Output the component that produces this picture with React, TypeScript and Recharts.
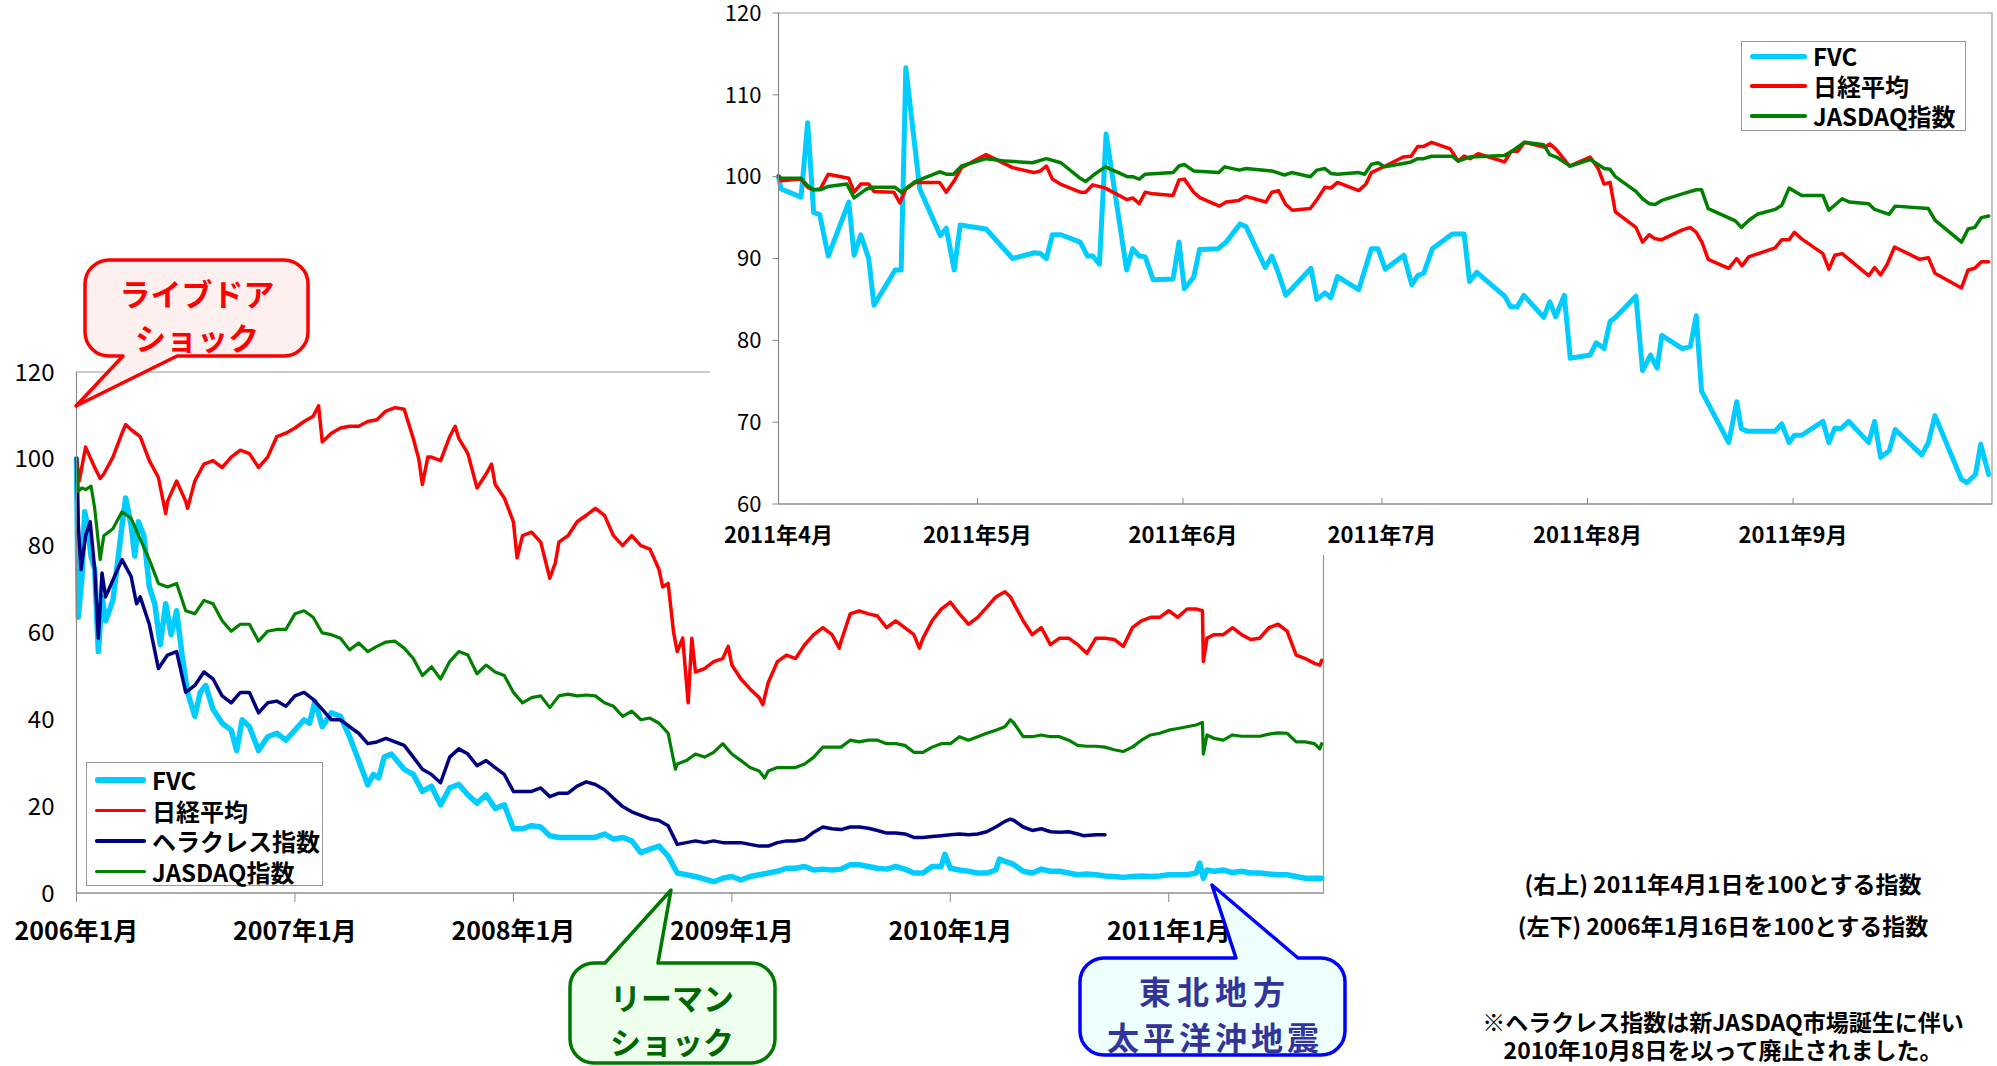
import { Line, LineChart, ReferenceArea, XAxis, YAxis } from "recharts";

const FONT = '"Noto Sans CJK JP", "Noto Sans", sans-serif';

const C_FVC = "#00CCFF";
const C_NIKKEI = "#FF0000";
const C_HERC = "#000080";
const C_JASDAQ = "#008000";

// ---- lower chart: x = months since 2006年1月, value = index (2006/1/16 = 100)
const longTicks = [0, 12, 24, 36, 48, 60];
const longTickLabels = ["2006年1月", "2007年1月", "2008年1月", "2009年1月", "2010年1月", "2011年1月"];
const longYTicks = [0, 20, 40, 60, 80, 100, 120];

const fvcLong: [number, number][] = [
  [0, 100], [0.1, 63.5], [0.3, 72.9], [0.45, 87.8], [0.6, 84.7], [0.8, 77.6], [1, 74.5], [1.2, 55.6],
  [1.4, 68.2], [1.6, 62.7], [2, 67.4], [2.3, 77.6], [2.5, 84.7], [2.7, 91], [3, 84.7], [3.2, 77.6],
  [3.4, 85.5], [3.7, 82.3], [4, 70.5], [4.3, 66.6], [4.6, 57.2], [4.9, 66.6], [5.2, 59.5], [5.5, 65],
  [5.8, 54.8], [6.1, 46.2], [6.5, 40.7], [6.8, 46.2], [7.1, 47.8], [7.5, 42.3], [8, 39.1], [8.5, 37.5],
  [8.8, 32.8], [9.1, 39.9], [9.5, 38.3], [10, 32.8], [10.5, 36], [11, 36.8], [11.5, 35.2], [12, 37.5],
  [12.5, 39.9], [12.8, 39.1], [13.1, 44.2], [13.5, 38.3], [14, 41.5], [14.5, 40.7], [15, 36], [15.5, 30.5],
  [16, 24.9], [16.3, 27.3], [16.6, 26.5], [16.9, 31.3], [17.3, 32], [17.6, 30.5], [18, 28.5], [18.5, 27.3],
  [19, 23.4], [19.5, 24.6], [20, 20.3], [20.5, 24.2], [21, 25], [21.5, 22.6], [22, 20.7], [22.5, 22.6],
  [23, 19.5], [23.5, 20.3], [24, 14.8], [24.5, 14.8], [25, 15.5], [25.5, 15.2], [26, 13.2], [26.5, 12.8],
  [27, 12.8], [27.5, 12.8], [28, 12.8], [28.5, 12.8], [29, 13.6], [29.5, 12.4], [30, 12.8], [30.5, 12],
  [31, 9.3], [31.5, 10.1], [32, 10.8], [32.5, 8.5], [33, 4.6], [33.5, 4.2], [34, 3.8], [34.5, 3.2],
  [35, 2.6], [35.5, 3.4], [36, 3.8], [36.5, 3], [37, 3.8], [37.5, 4.2], [38, 4.6], [38.5, 5],
  [39, 5.7], [39.5, 5.7], [40, 6.1], [40.5, 5.3], [41, 5.5], [41.5, 5.3], [42, 5.5], [42.5, 6.5],
  [43, 6.5], [43.5, 6.1], [44, 5.7], [44.5, 5.5], [45, 6.1], [45.5, 5.5], [46, 4.6], [46.5, 4.6],
  [47, 6.1], [47.5, 6.1], [47.7, 8.9], [48, 5.7], [48.5, 5.3], [49, 5], [49.5, 4.6], [50, 4.6],
  [50.5, 5.3], [50.7, 7.8], [51, 7.3], [51.3, 6.9], [51.5, 6.5], [52, 5], [52.5, 4.6], [53, 5.5],
  [53.5, 5], [54, 5], [54.5, 4.6], [55, 4.2], [55.5, 4.4], [56, 4.2], [56.5, 3.9], [57, 3.8],
  [57.5, 3.6], [58, 3.8], [58.5, 3.9], [59, 3.8], [59.5, 3.9], [60, 4.2], [60.5, 4.2], [61, 4.2],
  [61.5, 4.6], [61.7, 6.9], [61.9, 3.4], [62.1, 5.3], [62.5, 5], [63, 5.3], [63.5, 4.7], [64, 5],
  [64.5, 4.6], [65, 4.6], [65.5, 4.4], [66, 4.2], [66.5, 4.2], [67, 3.8], [67.5, 3.4], [68, 3.4], [68.4, 3.4],
];

const nikkeiLong: [number, number][] = [
  [0, 100], [0.15, 94.9], [0.5, 102.7], [1, 98], [1.3, 95.5], [1.5, 96.5], [2, 100.4], [2.5, 105.9],
  [2.7, 107.9], [3, 106.7], [3.5, 105.1], [4, 99.6], [4.5, 95.7], [4.9, 87.4], [5, 90.2], [5.5, 94.9],
  [6, 90.2], [6.1, 88.6], [6.5, 94.9], [7, 98.8], [7.5, 99.6], [8, 98], [8.5, 100.4], [9, 102],
  [9.5, 101.2], [10, 98], [10.5, 100.4], [11, 105.1], [11.5, 105.9], [12, 107.1], [12.5, 108.6], [13, 109.8],
  [13.3, 112.2], [13.5, 103.9], [14, 105.9], [14.5, 107.1], [15, 107.5], [15.5, 107.5], [16, 108.6], [16.5, 109],
  [17, 111], [17.5, 111.8], [18, 111.4], [18.5, 104.7], [18.8, 100], [19, 94.1], [19.3, 100.4], [19.5, 100.4],
  [20, 99.6], [20.5, 105.1], [20.8, 107.5], [21, 104.7], [21.5, 101.2], [22, 93.3], [22.5, 96.5], [22.8, 98.8],
  [23, 94.1], [23.5, 91], [24, 85.5], [24.2, 77.2], [24.5, 82.3], [25, 83.1], [25.5, 80.8], [26, 72.5],
  [26.3, 76], [26.5, 80.8], [27, 82.3], [27.5, 85.5], [28, 87], [28.5, 88.6], [29, 87], [29.5, 82.3],
  [30, 80], [30.5, 82.3], [31, 80], [31.5, 79.2], [32, 74.5], [32.2, 70.5], [32.5, 71.3], [32.8, 60],
  [33, 55.6], [33.3, 58.7], [33.6, 43.8], [33.8, 58.7], [34, 50.9], [34.5, 51.7], [35, 53.3], [35.5, 54],
  [35.8, 56.8], [36, 52.5], [36.5, 49.3], [37, 47], [37.5, 45], [37.7, 43.4], [38, 48.5], [38.5, 53.3],
  [39, 54.8], [39.5, 54], [40, 57.2], [40.5, 59.5], [41, 61.1], [41.5, 59.5], [41.9, 56.4], [42, 58],
  [42.5, 64.3], [43, 65], [43.5, 64.3], [44, 63.8], [44.5, 61.1], [45, 62.7], [45.5, 61.1], [46, 59.5],
  [46.3, 56.4], [46.5, 58.7], [47, 62.7], [47.5, 65.4], [48, 67], [48.5, 64.3], [49, 61.9], [49.5, 63.5],
  [50, 65.8], [50.5, 68.2], [51, 69.4], [51.3, 68.2], [51.5, 66.6], [52, 62.7], [52.5, 59.5], [53, 61.1],
  [53.5, 57.2], [54, 58.7], [54.5, 58.7], [55, 57.2], [55.5, 55.2], [56, 58.7], [56.5, 58.7], [57, 58.4],
  [57.5, 56.8], [58, 61.1], [58.5, 62.7], [59, 63.5], [59.5, 63.5], [60, 65], [60.5, 63.5], [61, 65.4],
  [61.5, 65.4], [61.85, 65], [61.9, 53.3], [62.1, 58.7], [62.5, 59.5], [63, 59.5], [63.5, 61.1], [64, 59.5],
  [64.5, 58.4], [65, 58.7], [65.5, 61.1], [66, 61.9], [66.5, 60.3], [67, 54.8], [67.5, 54], [68, 52.9],
  [68.3, 52.5], [68.4, 53.6],
];

const herculesLong: [number, number][] = [
  [0, 100], [0.1, 84.7], [0.25, 74.5], [0.5, 82.3], [0.75, 85.5], [1, 74.5], [1.2, 58.7], [1.4, 73.7],
  [1.6, 68.2], [2, 72.1], [2.5, 76.8], [3, 72.9], [3.3, 66.6], [3.5, 68.2], [4, 61.9], [4.5, 51.7],
  [5, 54.8], [5.5, 55.6], [6, 46.2], [6.5, 47.8], [7, 50.9], [7.5, 49.3], [8, 45.4], [8.5, 43.8],
  [9, 46.2], [9.5, 46.2], [10, 41.5], [10.5, 43.8], [11, 44.2], [11.5, 43], [12, 45.4], [12.5, 46.2],
  [13, 44.6], [13.5, 42.3], [14, 39.9], [14.5, 39.9], [15, 38.3], [15.5, 36.8], [16, 34.4], [16.5, 34.8],
  [17, 35.6], [17.5, 34.8], [18, 34], [18.5, 31.3], [19, 28.5], [19.5, 27.3], [20, 25.4], [20.5, 31.3],
  [21, 33.2], [21.5, 32], [22, 29.3], [22.5, 30.5], [23, 28.9], [23.5, 27.3], [24, 23.4], [24.5, 23.4],
  [25, 23.4], [25.5, 24.2], [26, 22.2], [26.5, 23], [27, 23], [27.5, 24.6], [28, 25.6], [28.5, 25],
  [29, 23.8], [29.5, 21.8], [30, 19.9], [30.5, 18.7], [31, 17.9], [31.5, 17.1], [32, 16.7], [32.5, 15.5],
  [33, 11.2], [33.5, 11.6], [34, 12], [34.5, 11.6], [35, 12], [35.5, 11.6], [36, 11.6], [36.5, 11.6],
  [37, 11.2], [37.5, 10.8], [38, 10.8], [38.5, 11.6], [39, 12], [39.5, 12], [40, 12.4], [40.5, 14],
  [41, 15.2], [41.5, 14.8], [42, 14.6], [42.5, 15.2], [43, 15.2], [43.5, 14.9], [44, 14.4], [44.5, 13.8],
  [45, 13.8], [45.5, 13.6], [46, 12.8], [46.5, 12.8], [47, 13], [47.5, 13.2], [48, 13.4], [48.5, 13.6],
  [49, 13.4], [49.5, 13.6], [50, 14.1], [50.5, 15.2], [51, 16.5], [51.3, 17], [51.5, 16.7], [52, 15.2],
  [52.5, 14.4], [53, 14.8], [53.5, 14.1], [54, 14], [54.5, 14.1], [55, 13.6], [55.3, 13.2], [56, 13.4],
  [56.5, 13.4],
];

const jasdaqLong: [number, number][] = [
  [0, 100], [0.1, 92.5], [0.3, 93.3], [0.5, 92.9], [0.8, 93.7], [1, 88.6], [1.3, 76.8], [1.5, 82.3],
  [2, 83.9], [2.5, 87.8], [3, 86.3], [3.5, 81.5], [4, 76.8], [4.5, 71.3], [5, 70.5], [5.5, 71.3],
  [6, 65], [6.5, 64.3], [7, 67.4], [7.5, 66.6], [8, 62.7], [8.5, 60.3], [9, 61.9], [9.5, 61.9],
  [10, 58], [10.5, 60.3], [11, 60.7], [11.5, 60.7], [12, 64.3], [12.5, 65], [13, 63.5], [13.5, 59.9],
  [14, 59.5], [14.5, 58.7], [15, 56], [15.5, 57.6], [16, 55.6], [16.5, 56.8], [17, 57.8], [17.5, 58],
  [18, 56.4], [18.5, 54], [19, 50.1], [19.5, 52.1], [20, 49.3], [20.5, 53.3], [21, 55.6], [21.5, 54.8],
  [22, 50.5], [22.5, 52.5], [23, 50.9], [23.5, 50.1], [24, 46.2], [24.5, 43.8], [25, 45], [25.5, 45.4],
  [26, 42.7], [26.5, 45.4], [27, 45.8], [27.5, 45.4], [28, 45.6], [28.5, 45.4], [29, 43.8], [29.5, 43],
  [30, 40.7], [30.5, 41.9], [31, 39.9], [31.5, 40.3], [32, 39.1], [32.5, 36.8], [32.9, 28.5], [33, 29.7],
  [33.5, 30.5], [34, 32], [34.5, 31.3], [35, 32.4], [35.5, 34.4], [36, 32], [36.5, 30.5], [37, 28.9],
  [37.5, 28.1], [37.8, 26.5], [38, 28.1], [38.5, 28.9], [39, 28.9], [39.5, 28.9], [40, 29.7], [40.5, 31.3],
  [41, 33.6], [41.5, 33.6], [42, 33.6], [42.5, 35.2], [43, 34.8], [43.5, 35.2], [44, 35.2], [44.5, 34.4],
  [45, 34.4], [45.5, 34], [46, 32.4], [46.5, 32.4], [47, 33.6], [47.5, 34.4], [48, 34.4], [48.5, 36],
  [49, 35.2], [49.5, 36], [50, 36.8], [50.5, 37.5], [51, 38.3], [51.3, 39.9], [51.5, 39.1], [52, 36],
  [52.5, 36], [53, 36.4], [53.5, 36], [54, 36], [54.5, 35.2], [55, 34], [55.5, 33.8], [56, 33.8],
  [56.5, 33.6], [57, 33], [57.5, 32.6], [58, 33.6], [58.5, 35.2], [59, 36.4], [59.5, 36.8], [60, 37.5],
  [60.5, 37.9], [61, 38.3], [61.5, 38.7], [61.85, 39.3], [61.9, 32], [62.1, 36.4], [62.5, 35.6], [63, 35.2],
  [63.5, 36.4], [64, 36.1], [64.5, 36.1], [65, 36.1], [65.5, 36.6], [66, 36.9], [66.5, 36.8], [67, 34.8],
  [67.5, 34.8], [68, 34.4], [68.3, 33.2], [68.4, 34.4],
];

// ---- upper chart: x = days since 2011/4/1, value = index (2011/4/1 = 100)
const shortTicks = [0, 30, 61, 91, 122, 153];
const shortTickLabels = ["2011年4月", "2011年5月", "2011年6月", "2011年7月", "2011年8月", "2011年9月"];
const shortYTicks = [60, 70, 80, 90, 100, 110, 120];

const fvcShort: [number, number][] = [
  [0, 100], [0.4, 98.5], [3.4, 97.5], [4.4, 106.6], [5.3, 95.6], [6.2, 95.4], [7.5, 90.3], [10.6, 96.9],
  [11.4, 90.4], [12.4, 92.9], [13.6, 90], [14.4, 84.3], [17.6, 88.6], [18.5, 88.6], [19.2, 113.3], [21.3, 98.5],
  [24.4, 92.8], [25.3, 93.7], [26.5, 88.6], [27.4, 94.1], [31.3, 93.6], [35.3, 90], [38.6, 90.7], [39.5, 90.6],
  [40.4, 90], [41.3, 92.9], [42.6, 92.9], [45.5, 92], [46.6, 90.3], [47.4, 90.3], [48.4, 89.3], [49.4, 105.2],
  [52.5, 88.6], [53.4, 91.2], [54.4, 90.3], [55.3, 90.2], [56.5, 87.4], [59.5, 87.5], [60.4, 92], [61.2, 86.3],
  [62.6, 87.7], [63.5, 91.1], [66.3, 91.2], [67.5, 92], [69.6, 94.2], [70.5, 93.9], [73.4, 88.9], [74.4, 90.3],
  [75.4, 88.2], [76.5, 85.5], [80.3, 88.8], [81.2, 85], [82.4, 85.8], [83.3, 85.2], [84.3, 87.8], [87.5, 86.2],
  [89.4, 91.2], [90.4, 91.2], [91.5, 88.7], [94.3, 90.4], [95.5, 86.8], [96.4, 87.9], [97.3, 88.2], [98.6, 91.2],
  [101.6, 93], [103.4, 93], [104.2, 87.2], [105.3, 88.3], [109.5, 85.4], [110.4, 84.1], [111.4, 84.1], [112.4, 85.5],
  [115.4, 82.8], [116.3, 84.7], [117.2, 82.9], [118.5, 85.5], [119.4, 77.8], [122.4, 78.2], [123.3, 79.7], [124.5, 79],
  [125.4, 82.3], [126.2, 82.8], [129.3, 85.4], [130.3, 76.3], [131.5, 78.2], [132.5, 76.6], [133.2, 80.6], [136.3, 79],
  [137.5, 79.2], [138.4, 83], [139.2, 73.8], [143.3, 67.5], [144.5, 72.5], [145.2, 69.2], [146.1, 68.9], [150.3, 68.9],
  [151.3, 69.8], [152.4, 67.5], [153.2, 68.4], [154.3, 68.4], [157.5, 70.1], [158.4, 67.5], [159.3, 69.3], [160.2, 69.2],
  [161.4, 70.1], [164.4, 67.5], [165.3, 70.1], [166.2, 65.7], [167.5, 66.5], [168.4, 69.1], [172.4, 66], [173.4, 67.5],
  [174.4, 70.8], [178.4, 63], [179.2, 62.6], [180.5, 63.6], [181.3, 67.3], [182.5, 63.6],
];

const nikkeiShort: [number, number][] = [
  [0, 100], [0.4, 99.5], [3.4, 99.7], [4.4, 98.7], [5.3, 98.4], [6.3, 98.5], [7.5, 100.3], [10.6, 99.8],
  [11.4, 98.1], [12.4, 99.1], [13.6, 99.1], [14.4, 98.2], [17.4, 98.1], [18.3, 96.8], [19.2, 98.5], [20.7, 99.3],
  [24.3, 99.3], [25.3, 98.1], [26.5, 99.5], [27.6, 101.1], [31.3, 102.7], [35.3, 101.1], [38.5, 100.5], [39.5, 100.7],
  [40.4, 101.3], [41.3, 99.7], [42.5, 99.1], [45.5, 98.1], [46.3, 98.1], [47.4, 99], [49.3, 98.6], [52.5, 97.2],
  [53.4, 97.4], [54.4, 96.7], [55.3, 98.1], [56.5, 97.9], [59.5, 97.7], [60.4, 99.6], [61.2, 99.7], [62.6, 98.1],
  [63.6, 97.4], [66.5, 96.4], [67.5, 96.9], [69.4, 97.1], [70.5, 97.6], [73.5, 96.9], [74.4, 98.1], [75.4, 98.3],
  [76.5, 96.6], [77.5, 95.9], [80.2, 96.1], [81.2, 97.2], [82.4, 98.7], [83.3, 98.6], [84.3, 99.3], [87.5, 98.3],
  [88.6, 99.1], [89.4, 100.5], [91.5, 101.3], [94.2, 102.4], [95.4, 102.5], [96.4, 103.7], [97.3, 103.7], [98.5, 104.2],
  [101.3, 103.4], [102.5, 101.9], [103.4, 102.5], [104.3, 102.2], [105.5, 102.8], [109.5, 101.8], [110.5, 103.1], [111.5, 103.1],
  [112.5, 104.2], [115.6, 103.6], [116.3, 104], [117.3, 103.3], [119.3, 101.3], [122.4, 102.4], [123.6, 101], [124.5, 99.1],
  [125.4, 99.3], [126.2, 95.7], [129.3, 93.8], [130.3, 92], [131.3, 92.9], [132.2, 92.4], [133.2, 92.3], [136.3, 93.5],
  [137.5, 93.8], [138.4, 93.2], [139.3, 91.9], [140.2, 89.9], [143.3, 88.8], [144.5, 90], [145.3, 89.1], [146.3, 90.2],
  [150.3, 91.3], [151.3, 92.3], [152.4, 92.3], [153.2, 93.2], [154.3, 92.4], [157.5, 90.6], [158.4, 88.7], [159.3, 90.4],
  [160.4, 90.6], [164.4, 87.9], [165.3, 88.9], [166.2, 88], [167.2, 89.3], [168.3, 91.4], [172.1, 89.9], [173.4, 90.1],
  [174.4, 88.2], [178.4, 86.4], [179.4, 88.6], [180.4, 88.8], [181.4, 89.6], [182.5, 89.6],
];

const jasdaqShort: [number, number][] = [
  [0, 100.1], [0.4, 99.8], [3.4, 99.8], [4.4, 98.9], [5.3, 98.4], [6.3, 98.4], [7.5, 98.8], [10.3, 99.1],
  [11.4, 97.4], [13.3, 98.5], [14.2, 98.7], [17.6, 98.7], [18.5, 98.1], [20.6, 99.4], [24.3, 100.6], [25.3, 100.3],
  [26.4, 100.3], [27.6, 101.3], [31.3, 102.2], [34.4, 101.9], [38.3, 101.7], [40.4, 102.2], [42.6, 101.7], [45.5, 99.8],
  [46.3, 99.4], [47.5, 100.2], [49.3, 101.2], [52.6, 100], [53.4, 100], [54.4, 99.7], [55.3, 100.3], [59.5, 100.5],
  [60.4, 101.3], [61.2, 101.5], [62.6, 100.7], [66.4, 100.5], [67.3, 101.2], [69.5, 100.8], [70.5, 101], [74.4, 100.7],
  [76.3, 100.2], [77.4, 100.5], [80.2, 100], [81.2, 100.8], [82.4, 101], [83.3, 100.4], [84.3, 100.3], [87.5, 100.5],
  [88.4, 100.3], [89.4, 101.5], [90.4, 101.7], [91.4, 101.2], [94.2, 101.6], [95.4, 101.8], [96.4, 102.2], [97.3, 102.2],
  [98.5, 102.5], [101.6, 102.5], [102.5, 101.9], [104.2, 102.4], [109.5, 102.6], [110.4, 103], [112.5, 104.2], [115.4, 103.9],
  [116.3, 102.7], [117.3, 102.4], [119.4, 101.3], [122.4, 102.1], [123.6, 101.5], [124.5, 101], [125.4, 100.9], [126.2, 100],
  [129.3, 98.2], [130.3, 97.3], [131.3, 96.7], [132.2, 96.6], [133.2, 97.1], [136.3, 97.9], [138.4, 98.4], [139.2, 98.4],
  [140.2, 96.1], [144.3, 94.6], [145.2, 93.8], [146.4, 94.7], [147.6, 95.4], [150.3, 96], [151.3, 96.5], [152.4, 98.6],
  [154.3, 97.7], [157.5, 97.7], [158.4, 95.9], [160.4, 97.3], [161.5, 96.9], [164.4, 96.7], [165.3, 96], [167.5, 95.4],
  [168.4, 96.4], [173.4, 96.1], [174.4, 94.7], [178.4, 92], [179.4, 93.6], [180.4, 93.8], [181.4, 95], [182.5, 95.2],
];

const notes = [
  "(右上) 2011年4月1日を100とする指数",
  "(左下) 2006年1月16日を100とする指数",
  "※ヘラクレス指数は新JASDAQ市場誕生に伴い",
  "2010年10月8日を以って廃止されました。",
];

const rows = (pts: [number, number][]) => pts.map(([x, v]) => ({ x, v }));

const lineProps = {
  type: "linear" as const,
  dataKey: "v",
  dot: false,
  activeDot: false,
  isAnimationActive: false,
  strokeLinejoin: "round" as const,
  strokeLinecap: "round" as const,
};

function LongXTick(p: any) {
  const i = longTicks.indexOf(p.payload.value);
  return (
    <text x={p.x} y={p.y + 38} textAnchor="middle" fontSize={25} fontWeight="bold" fontFamily={FONT} fill="#000">
      {longTickLabels[i]}
    </text>
  );
}

function ShortXTick(p: any) {
  const i = shortTicks.indexOf(p.payload.value);
  return (
    <g>
      {i > 0 && <line x1={p.x} x2={p.x} y1={p.y} y2={p.y - 6} stroke="#888" />}
      <text x={p.x} y={p.y + 39} textAnchor="middle" fontSize={22} fontWeight="bold" fontFamily={FONT} fill="#000">
        {shortTickLabels[i]}
      </text>
    </g>
  );
}

type LegendItem = { name: string; color: string; width: number };

function LegendBox({ items, left, top, width, height, swatch, rowGap, firstRow }: {
  items: LegendItem[]; left: number; top: number; width: number; height: number;
  swatch: number; rowGap: number; firstRow: number;
}) {
  return (
    <div style={{ position: "absolute", left, top, width, height, boxSizing: "border-box", border: "1.5px solid #999", background: "#fff" }}>
      {items.map((it, i) => (
        <div key={it.name} style={{ position: "absolute", left: 8, top: firstRow + i * rowGap - 13, height: 26, display: "flex", alignItems: "center" }}>
          <span style={{ display: "inline-block", width: swatch, height: it.width, background: it.color, borderRadius: it.width / 2 }} />
          <span style={{ marginLeft: 6, fontFamily: FONT, fontWeight: "bold", fontSize: 24, lineHeight: "26px", color: "#000", whiteSpace: "nowrap" }}>
            {it.name}
          </span>
        </div>
      ))}
    </div>
  );
}

function calloutPath(x: number, y: number, w: number, h: number, r: number, side: "top" | "bottom", b1: number, b2: number, tx: number, ty: number) {
  if (side === "bottom") {
    return `M${x + r},${y} H${x + w - r} A${r},${r} 0 0 1 ${x + w},${y + r} V${y + h - r} A${r},${r} 0 0 1 ${x + w - r},${y + h} H${b2} L${tx},${ty} L${b1},${y + h} H${x + r} A${r},${r} 0 0 1 ${x},${y + h - r} V${y + r} A${r},${r} 0 0 1 ${x + r},${y} Z`;
  }
  return `M${x + r},${y} H${b1} L${tx},${ty} L${b2},${y} H${x + w - r} A${r},${r} 0 0 1 ${x + w},${y + r} V${y + h - r} A${r},${r} 0 0 1 ${x + w - r},${y + h} H${x + r} A${r},${r} 0 0 1 ${x},${y + h - r} V${y + r} A${r},${r} 0 0 1 ${x + r},${y} Z`;
}

function Overlay() {
  const txt = { fontFamily: FONT, fontWeight: "bold" as const, fontSize: 31, textAnchor: "middle" as const, dominantBaseline: "central" as const };
  return (
    <svg width={1997} height={1066} style={{ position: "absolute", left: 0, top: 0, pointerEvents: "none" }}>
      <path d={calloutPath(85, 260, 223, 96, 24, "bottom", 123, 177, 76, 406)} fill="#FFF0F0" stroke="#FF0000" strokeWidth={3.5} strokeLinejoin="round" />
      <text x={197} y={292} fill="#FF0000" {...txt}>ライブドア</text>
      <text x={197} y={336} fill="#FF0000" {...txt}>ショック</text>

      <path d={calloutPath(570, 963, 205, 100, 24, "top", 605, 658, 671, 890)} fill="#EEFFEE" stroke="#007700" strokeWidth={3.5} strokeLinejoin="round" />
      <text x={672} y={996} fill="#006600" {...txt}>リーマン</text>
      <text x={672} y={1040} fill="#006600" {...txt}>ショック</text>

      <path d={calloutPath(1080, 958, 265, 97, 24, "top", 1236, 1298, 1212, 885)} fill="#EEFFFF" stroke="#0000FF" strokeWidth={3.5} strokeLinejoin="round" />
      <text x={1215} y={990} fill="#333399" letterSpacing={6} {...txt} fontSize={32}>東北地方</text>
      <text x={1215} y={1036} fill="#333399" letterSpacing={4} {...txt} fontSize={32}>太平洋沖地震</text>

      {[883, 925, 1021, 1049].map((y, i) => (
        <text key={i} x={1723} y={y} fontFamily={FONT} fontWeight="bold" fontSize={23} textAnchor="middle" dominantBaseline="central" fill="#000">
          {notes[i]}
        </text>
      ))}
    </svg>
  );
}

export default function App() {
  return (
    <div style={{ position: "absolute", left: 0, top: 0, width: 1997, height: 1066, overflow: "hidden", background: "#fff" }}>
      {/* long-term chart, 2006-2011 */}
      <div style={{ position: "absolute", left: 0, top: 0 }}>
        <LineChart width={1340} height={960} margin={{ top: 372, right: 16.5, bottom: 17, left: 0 }}>
          <ReferenceArea x1={0} x2={68.5} y1={0} y2={120} fill="#fff" fillOpacity={0} stroke="#999" strokeWidth={1.2} />
          <XAxis type="number" dataKey="x" domain={[0, 68.5]} ticks={longTicks} interval={0} height={50}
            stroke="#888" tickSize={9} tickMargin={0} tick={LongXTick} />
          <YAxis type="number" domain={[0, 120]} ticks={longYTicks} interval={0} width={76.5}
            stroke="#888" tickLine={false} tickSize={0} tickMargin={22}
            tick={{ fill: "#000", fontSize: 24, fontFamily: FONT }} />
          <Line {...lineProps} data={rows(fvcLong)} name="FVC" stroke={C_FVC} strokeWidth={5.5} />
          <Line {...lineProps} data={rows(nikkeiLong)} name="日経平均" stroke={C_NIKKEI} strokeWidth={3.5} />
          <Line {...lineProps} data={rows(herculesLong)} name="ヘラクレス指数" stroke={C_HERC} strokeWidth={3.5} />
          <Line {...lineProps} data={rows(jasdaqLong)} name="JASDAQ指数" stroke={C_JASDAQ} strokeWidth={3.2} />
        </LineChart>
      </div>
      <LegendBox
        left={86} top={762} width={237} height={124} swatch={51} rowGap={30.5} firstRow={17}
        items={[
          { name: "FVC", color: C_FVC, width: 5.5 },
          { name: "日経平均", color: C_NIKKEI, width: 3.5 },
          { name: "ヘラクレス指数", color: C_HERC, width: 3.5 },
          { name: "JASDAQ指数", color: C_JASDAQ, width: 3.5 },
        ]}
      />

      {/* short-term chart, 2011/4-9 */}
      <div style={{ position: "absolute", left: 710, top: 0, width: 1287, height: 555, background: "#fff" }}>
        <LineChart width={1287} height={555} margin={{ top: 13, right: 5, bottom: 11, left: 0 }}>
          <ReferenceArea x1={0} x2={183} y1={60} y2={120} fill="#fff" fillOpacity={0} stroke="#999" strokeWidth={1.2} />
          <XAxis type="number" dataKey="x" domain={[0, 183]} ticks={shortTicks} interval={0} height={40}
            stroke="#888" tickLine={false} tickSize={0} tickMargin={0} tick={ShortXTick} />
          <YAxis type="number" domain={[60, 120]} ticks={shortYTicks} interval={0} width={68.5}
            stroke="#888" tickSize={6} tickMargin={11}
            tick={{ fill: "#000", fontSize: 22, fontFamily: FONT }} />
          <Line {...lineProps} data={rows(fvcShort)} name="FVC" stroke={C_FVC} strokeWidth={5} />
          <Line {...lineProps} data={rows(nikkeiShort)} name="日経平均" stroke={C_NIKKEI} strokeWidth={3.5} />
          <Line {...lineProps} data={rows(jasdaqShort)} name="JASDAQ指数" stroke={C_JASDAQ} strokeWidth={3.5} />
        </LineChart>
        <LegendBox
          left={1031} top={41} width={225} height={90} swatch={57} rowGap={30} firstRow={14}
          items={[
            { name: "FVC", color: C_FVC, width: 5 },
            { name: "日経平均", color: C_NIKKEI, width: 3.5 },
            { name: "JASDAQ指数", color: C_JASDAQ, width: 3.5 },
          ]}
        />
      </div>

      <Overlay />
    </div>
  );
}
